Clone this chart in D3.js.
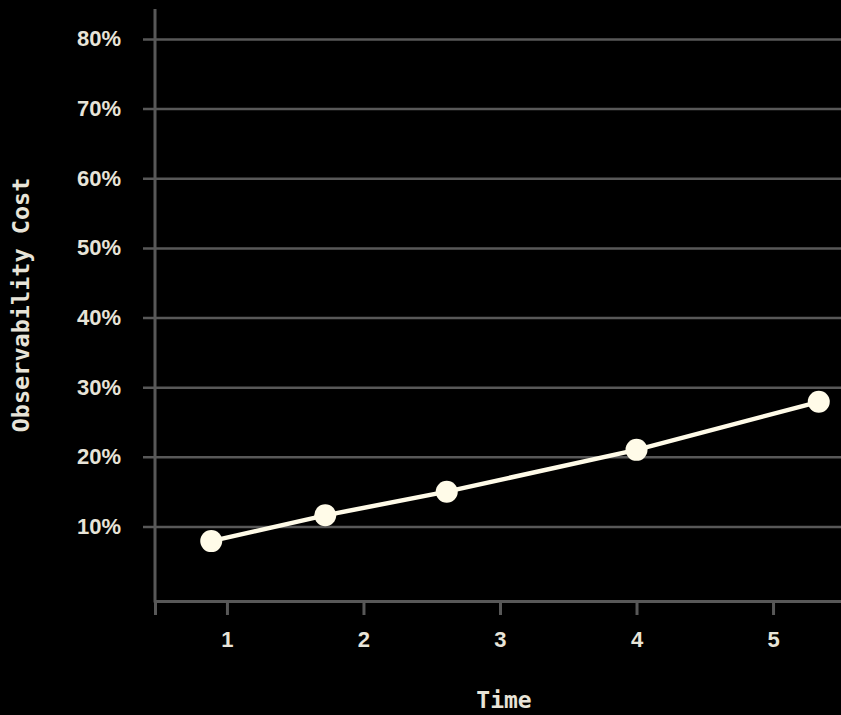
<!DOCTYPE html>
<html lang="en">
<head>
  <meta charset="UTF-8" />
  <title>Observability Cost over Time</title>
  <script src="https://d3js.org/d3.v7.min.js"></script>
  <style>
    html, body {
      margin: 0;
      padding: 0;
      background-color: #000;
      overflow: hidden;
    }
    svg {
      display: block;
      font-family: 'DejaVu Sans Mono', 'Liberation Mono', monospace;
      font-weight: bold;
    }
  </style>
</head>
<body>
<div id="chart"></div>
<script>
// data
const timeValues = [0.885, 1.72, 2.61, 4.0, 5.335];
const costValues = [7.9, 11.6, 15.0, 21.0, 27.9];
const xTicks = [1, 2, 3, 4, 5];
const yTicks = [10, 20, 30, 40, 50, 60, 70, 80];

const W = 841, H = 715;
const gridColor = "#585858";
const textColor = "#e8e4d8";
const lineColor = "#fffbe8";

const svg = d3.select("#chart")
  .append("svg")
  .attr("width", W)
  .attr("height", H);

const x = d3.scaleLinear().domain([0.473, 5.637]).range([155, 860]);
const y = d3.scaleLinear().domain([-0.7, 84.3]).range([601, 9]);

// y axis + gridlines
const yAxis = svg.append("g")
  .attr("transform", "translate(155,0)")
  .call(d3.axisLeft(y).tickValues(yTicks).tickSize(12)
    .tickFormat(d => d + "%"));
yAxis.select(".domain").remove();
yAxis.selectAll(".tick line")
  .attr("x2", W)
  .attr("x1", -12)
  .attr("stroke", gridColor)
  .attr("stroke-width", 2.5);
yAxis.selectAll(".tick text")
  .attr("x", -34)
  .attr("fill", textColor)
  .style("font-size", "22px");

svg.append("line")
  .attr("x1", 155).attr("x2", 155)
  .attr("y1", y.range()[1]).attr("y2", y.range()[0] + 1.5)
  .attr("stroke", gridColor)
  .attr("stroke-width", 3);

// x axis
const xAxis = svg.append("g")
  .attr("transform", "translate(0,601)")
  .call(d3.axisBottom(x).tickValues(xTicks).tickSize(14).tickPadding(16)
    .tickFormat(d3.format("d")));
xAxis.select(".domain")
  .attr("stroke", gridColor)
  .attr("stroke-width", 3);
xAxis.selectAll(".tick line")
  .attr("stroke", gridColor)
  .attr("stroke-width", 3);
xAxis.selectAll(".tick text")
  .attr("fill", textColor)
  .style("font-size", "22px");

// axis titles
svg.append("text")
  .attr("x", 504)
  .attr("y", 708)
  .attr("text-anchor", "middle")
  .attr("fill", textColor)
  .style("font-size", "23px")
  .text("Time");

svg.append("text")
  .attr("transform", "translate(29,305) rotate(-90)")
  .attr("text-anchor", "middle")
  .attr("fill", textColor)
  .style("font-size", "23.5px")
  .text("Observability Cost");

// line + points
const pts = timeValues.map((t, i) => ({ t: t, c: costValues[i] }));

svg.append("path")
  .datum(pts)
  .attr("fill", "none")
  .attr("stroke", lineColor)
  .attr("stroke-width", 4.5)
  .attr("d", d3.line().x(d => x(d.t)).y(d => y(d.c)));

svg.selectAll("circle.pt")
  .data(pts)
  .enter()
  .append("circle")
  .attr("class", "pt")
  .attr("cx", d => x(d.t))
  .attr("cy", d => y(d.c))
  .attr("r", 11)
  .attr("fill", lineColor);
</script>
</body>
</html>
